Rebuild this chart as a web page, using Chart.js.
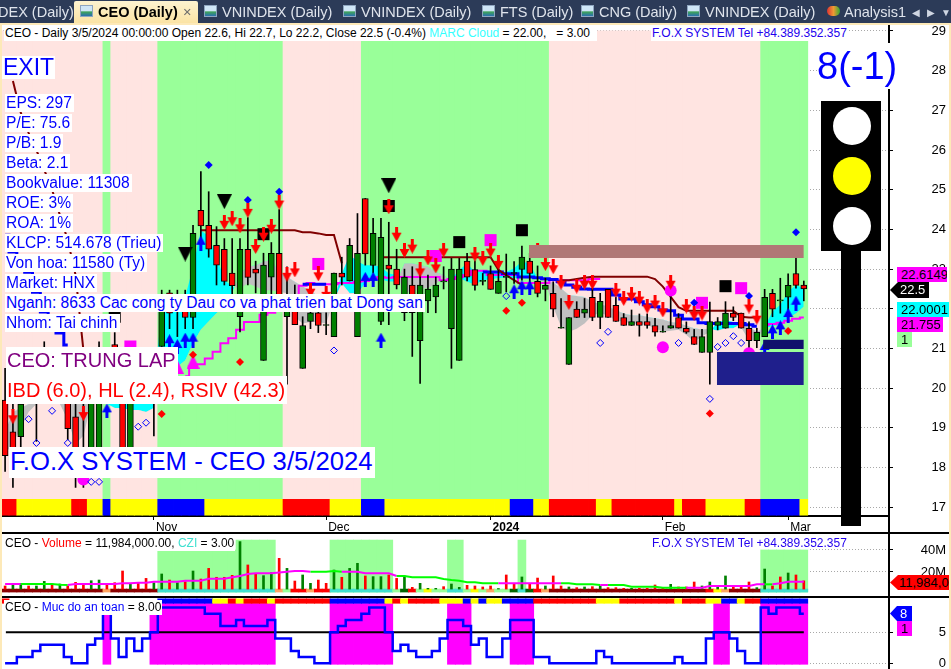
<!DOCTYPE html>
<html>
<head>
<meta charset="utf-8">
<title>CEO Daily</title>
<script src="https://cdn.jsdelivr.net/npm/chart.js@4"></script>
<style>
  html, body { margin: 0; padding: 0; background: #fff; overflow: hidden; }
  #page { position: relative; width: 951px; height: 669px; overflow: hidden; font-family: "Liberation Sans", Arial, sans-serif; color: #000; }
  canvas { position: absolute; left: 0; }
  .box { position: absolute; background: #fff; white-space: pre; line-height: 1; z-index: 5; }
  .info { color: #0000ff; font-size: 15.6px; left: 5px; padding: 1px 2px 1px 1px; }
  .hdr { font-size: 12px; padding: 1px 1px 2px 1px; }
  .tag { position: absolute; font-size: 13px; line-height: 15px; z-index: 6; white-space: pre; overflow: hidden; }
  .solid { position: absolute; z-index: 4; }
  .tabbar { position: absolute; left: 0; top: 0; width: 951px; height: 23px; background: #2c3b58; z-index: 8; overflow: hidden; }
  .tab { position: absolute; top: 3px; font-size: 14.5px; line-height: 19px; color: #dfe4ec; white-space: pre; }
  .ico { position: absolute; top: 5px; width: 13px; height: 12px; background: linear-gradient(#cfe6f7 45%, #3fa35a 60%, #2a6fb0); border: 1px solid #8fa6c0; box-sizing: border-box; }
  .frame { position: absolute; background: #fde9b8; z-index: 7; }
</style>
</head>
<body>
<div id="page">
  <canvas id="mainChart" width="951" height="508" style="top:25px"></canvas>
  <canvas id="volChart" width="951" height="63" style="top:534px"></canvas>
  <canvas id="safeChart" width="951" height="71" style="top:598px"></canvas>

  <div class="solid" style="left:888px;top:25px;width:2px;height:644px;background:#000"></div>
  <div class="solid" style="left:0;top:532px;width:951px;height:2px;background:#000"></div>
  <div class="solid" style="left:0;top:596px;width:951px;height:2px;background:#000"></div>

  <div class="tabbar">
    <div class="tab" style="left:-2px">DEX (Daily)</div>
    <div style="position:absolute;left:74px;top:1px;width:124px;height:22px;background:linear-gradient(#fdf3d0,#fbe3a4);border-radius:2px 2px 0 0"></div>
    <div class="ico" style="left:80px"></div>
    <div class="tab" style="left:98px;color:#000;font-weight:bold">CEO (Daily)</div>
    <div class="tab" style="left:183px;color:#6b6b6b">×</div>
    <div class="ico" style="left:204px"></div><div class="tab" style="left:222px">VNINDEX (Daily)</div>
    <div class="ico" style="left:343px"></div><div class="tab" style="left:361px">VNINDEX (Daily)</div>
    <div class="ico" style="left:482px"></div><div class="tab" style="left:500px">FTS (Daily)</div>
    <div class="ico" style="left:581px"></div><div class="tab" style="left:599px">CNG (Daily)</div>
    <div class="ico" style="left:687px"></div><div class="tab" style="left:705px">VNINDEX (Daily)</div>
    <div style="position:absolute;left:827px;top:6px;width:13px;height:10px;background:linear-gradient(90deg,#d33,#e93 50%,#3a3);border-radius:5px"></div>
    <div class="tab" style="left:844px">Analysis1</div>
    <div class="tab" style="left:912px;font-size:10px;color:#cfd6e2">◀</div>
    <div class="tab" style="left:927px;font-size:10px;color:#cfd6e2">▶</div>
    <div class="tab" style="left:941px;font-size:10px;color:#cfd6e2">▼</div>
  </div>
  <div class="frame" style="left:0;top:23px;width:951px;height:2px"></div>
  <div class="frame" style="left:0;top:23px;width:2px;height:646px"></div>
  <div class="frame" style="left:949px;top:23px;width:2px;height:646px"></div>

  <div class="box hdr" style="left:4px;top:26px;width:591px;height:12px">CEO - Daily 3/5/2024 00:00:00 Open 22.6, Hi 22.7, Lo 22.2, Close 22.5 (-0.4%) <span style="color:#33ffff">MARC Cloud</span> = 22.00,   = 3.00</div>
  <div class="box hdr" style="left:651px;top:26px;color:#2200ee;height:12px">F.O.X SYSTEM Tel +84.389.352.357</div>

  <div class="box" style="left:2px;top:56px;font-size:23px;color:#0000ff;padding:0 1px">EXIT</div>
  <div class="box info" style="top:94px">EPS: 297</div>
  <div class="box info" style="top:114px">P/E: 75.6</div>
  <div class="box info" style="top:134px">P/B: 1.9</div>
  <div class="box info" style="top:154px">Beta: 2.1</div>
  <div class="box info" style="top:174px">Bookvalue: 11308</div>
  <div class="box info" style="top:194px">ROE: 3%</div>
  <div class="box info" style="top:214px">ROA: 1%</div>
  <div class="box info" style="top:234px">KLCP: 514.678 (Trieu)</div>
  <div class="box info" style="top:254px">Von hoa: 11580 (Ty)</div>
  <div class="box info" style="top:274px">Market: HNX</div>
  <div class="box info" style="top:294px">Nganh: 8633 Cac cong ty Dau co va phat trien bat Dong san</div>
  <div class="box info" style="top:314px">Nhom: Tai chinh</div>
  <div class="box" style="left:6px;top:347px;font-size:20px;color:#800080;padding:3px 2px 6px 1px">CEO: TRUNG LAP</div>
  <div class="box" style="left:6px;top:376px;font-size:20px;color:#ff0000;padding:4px 2px 4px 1px">IBD (6.0), HL (2.4), RSIV (42.3)</div>
  <div class="box" style="left:9px;top:447px;font-size:25.7px;color:#0000ff;padding:2px 2px 3px 1px">F.O.X SYSTEM - CEO 3/5/2024</div>

  <div class="box" style="left:817px;top:43px;width:78px;height:46px;font-size:38px;line-height:46px;color:#0000ff;text-align:center">8(-1)</div>

  <div class="solid" style="left:821px;top:101px;width:60px;height:150px;background:#000"></div>
  <div class="solid" style="left:841px;top:251px;width:20px;height:275px;background:#000"></div>
  <div class="solid" style="left:833px;top:107px;width:38px;height:38px;border-radius:50%;background:#fff"></div>
  <div class="solid" style="left:833px;top:157px;width:38px;height:38px;border-radius:50%;background:#ffff00"></div>
  <div class="solid" style="left:833px;top:207px;width:38px;height:38px;border-radius:50%;background:#fff"></div>

  <div class="tag" style="left:897px;top:267px;width:50px;height:15px;background:#ff00ff;padding-left:4px;box-sizing:border-box">22.6149</div>
  <div class="tag" style="left:890px;top:282px;width:39px;height:16px;background:#000;color:#fff;padding-left:10px;box-sizing:border-box;clip-path:polygon(0 50%,8px 0,100% 0,100% 100%,8px 100%)">22.5</div>
  <div class="tag" style="left:897px;top:302px;width:53px;height:15px;background:#00ffff;padding-left:4px;box-sizing:border-box">22.0001</div>
  <div class="tag" style="left:897px;top:317px;width:46px;height:15px;background:#ff00ff;padding-left:4px;box-sizing:border-box">21.755</div>
  <div class="tag" style="left:897px;top:332px;width:15px;height:15px;background:#99ff99;padding-left:4px;box-sizing:border-box">1</div>

  <div class="box hdr" style="left:4px;top:536px;height:12px;z-index:5">CEO - <span style="color:#ff0000">Volume</span> = 11,984,000.00, <span style="color:#40e0d0">CZI</span> = 3.00</div>
  <div class="box hdr" style="left:651px;top:536px;height:12px;color:#2200ee;background:transparent">F.O.X SYSTEM Tel +84.389.352.357</div>
  <div class="tag" style="left:890px;top:575px;width:61px;height:15px;background:#ff0000;padding-left:9px;box-sizing:border-box;clip-path:polygon(0 50%,8px 0,100% 0,100% 100%,8px 100%)">11,984,000</div>

  <div class="box hdr" style="left:4px;top:600px;height:12px">CEO - <span style="color:#0000ff">Muc do an toan</span> = 8.00</div>
  <div class="tag" style="left:890px;top:606px;width:22px;height:15px;background:#0000ff;color:#fff;padding-left:10px;box-sizing:border-box;clip-path:polygon(0 50%,7px 0,100% 0,100% 100%,7px 100%)">8</div>
  <div class="tag" style="left:897px;top:621px;width:15px;height:15px;background:#ff00ff;padding-left:4px;box-sizing:border-box">1</div>
</div>

<script>
// price candles, one value per trading day (103 days)
const openVals = [
  19.7, 18.9, 18.78, 20.1, 20.2, 20.1, 20.5, 20.4, 20.2, 19.28,
  18.5, 18.2, 18.2, 20.5, 21.1, 20.0, 18.4, 20.2, 20.0, 19.9,
  21.05, 22.4, 22.2, 22.3, 21.78, 24.48, 24.1, 23.6, 23.5, 22.9,
  21.8, 23.5, 23.0, 20.7, 22.8, 23.4, 21.8, 22.3, 20.5, 21.68,
  21.9, 21.58, 21.3, 22.9, 22.7, 21.3, 24.78, 23.09, 21.68, 23.1,
  23.0, 21.9, 22.6, 21.2, 22.2, 22.3, 22.68, 21.5, 20.7, 23.2,
  22.99, 22.69, 22.89, 22.39, 22.79, 22.89, 22.99, 23.2, 22.69, 22.49,
  22.39, 21.51, 20.6, 21.99, 21.89, 22.29, 21.78, 22.49, 22.09, 21.78,
  21.58, 21.68, 21.68, 21.58, 21.41, 21.51, 21.78, 21.51, 21.3, 20.9,
  20.9, 21.58, 21.51, 21.89, 21.89, 21.51, 21.2, 21.3, 22.39, 22.2,
  22.29, 22.89, 22.6
];
const highVals = [
  20.5, 20.0, 20.0, 20.3, 20.3, 21.17, 20.8, 20.8, 20.5, 19.6,
  20.1, 20.5, 21.17, 20.8, 21.4, 20.2, 20.3, 20.3, 20.3, 20.2,
  22.47, 22.47, 22.47, 22.47, 24.1, 25.46, 24.95, 24.07, 23.77, 23.77,
  23.77, 24.3, 23.2, 23.4, 23.67, 24.5, 23.06, 22.6, 21.8, 21.95,
  21.95, 21.9, 22.9, 23.3, 23.77, 24.4, 24.78, 24.28, 24.28, 24.18,
  23.5, 23.0, 23.06, 22.9, 22.85, 22.8, 23.06, 23.27, 23.27, 23.4,
  23.21, 22.89, 23.08, 23.23, 23.38, 23.19, 23.58, 23.4, 23.08, 22.77,
  22.68, 22.26, 21.78, 22.18, 22.26, 22.52, 22.39, 22.49, 22.29, 21.88,
  21.97, 21.87, 21.87, 21.76, 21.57, 22.47, 21.88, 21.67, 21.48, 21.48,
  22.17, 21.78, 22.18, 22.05, 21.89, 21.67, 21.51, 22.49, 22.49, 22.77,
  22.88, 23.29, 22.7
];
const lowVals = [
  17.9, 17.5, 18.5, 19.65, 18.66, 19.9, 20.0, 19.9, 18.7, 17.5,
  17.5, 18.1, 18.1, 20.0, 20.0, 18.2, 18.2, 19.65, 19.65, 18.8,
  21.05, 21.5, 21.3, 21.5, 21.5, 23.5, 23.3, 22.6, 22.6, 22.3,
  21.42, 22.6, 22.4, 20.7, 22.3, 22.2, 20.1, 21.6, 20.5, 21.5,
  21.4, 21.35, 21.3, 22.6, 22.7, 21.3, 23.1, 22.9, 21.6, 21.6,
  22.5, 21.7, 20.8, 20.12, 21.9, 21.9, 22.5, 20.5, 20.7, 22.7,
  22.47, 22.6, 22.49, 22.39, 22.43, 22.64, 22.72, 22.64, 22.3, 22.2,
  21.8, 21.51, 20.6, 21.78, 21.78, 21.7, 21.5, 21.78, 21.68, 21.58,
  21.58, 21.31, 21.51, 21.31, 21.41, 21.51, 21.51, 21.38, 21.1, 20.9,
  20.1, 21.47, 21.51, 21.7, 21.51, 21.02, 21.02, 21.3, 21.8, 21.89,
  21.97, 22.52, 22.2
];
const closeVals = [
  18.3, 18.5, 19.6, 19.8, 19.9, 20.7, 20.2, 20.1, 18.98, 18.2,
  18.2, 20.2, 20.0, 20.2, 20.5, 18.4, 20.0, 20.0, 20.2, 20.0,
  22.3, 21.89, 22.0, 21.78, 23.9, 24.09, 23.5, 23.1, 22.69, 22.58,
  23.5, 22.79, 22.9, 23.1, 23.4, 22.2, 22.2, 21.6, 21.58, 21.9,
  21.58, 21.58, 22.9, 22.8, 23.6, 23.4, 23.38, 23.9, 23.8, 23.0,
  22.6, 22.8, 21.9, 22.6, 22.5, 22.6, 22.68, 23.0, 23.0, 22.8,
  22.59, 22.69, 22.49, 22.69, 22.79, 22.89, 23.3, 22.89, 22.39, 22.59,
  21.99, 21.51, 21.78, 21.78, 21.99, 21.78, 22.19, 21.78, 21.68, 21.58,
  21.68, 21.58, 21.58, 21.41, 21.41, 21.58, 21.51, 21.41, 21.1, 21.3,
  21.68, 21.68, 21.89, 21.78, 21.51, 21.2, 21.41, 22.29, 21.99, 22.2,
  22.59, 22.59, 22.5
];

// date axis
const dateTicks = [19, 41, 62, 84, 100];
const dateLabels = ['Nov', 'Dec', '2024', 'Feb', 'Mar'];
const priceTicks = [17, 18, 19, 20, 21, 22, 23, 24, 25, 26, 27, 28, 29];

// state codes per day: P pink / G green zones, R Y B strip at the chart bottom
const zoneCodes = 'PPPPPPPPPP PPPGPPPPPP GGGGGGGGGG GGGGGGPPPP PPPPPPGGGG GGGGGGGGGG GGGGGGGGGG PPPPPPPPPP PPPPPPPPPP PPPPPPPGGG GGG';
const stripCodes = 'RRYYYYYYYR RYYBYYYYYY BBBBBBYYYY YYYYYYRRRR RRYYYYBBBY YYYYYYYYYY YYYYYBBBYY RRRRRRYYRR RRRRRRYRRR YYYYYRRBBB BBY';

// indicator lines (null = not drawn)
const trailLine = [
  null, 27.74, 26.94, 26.43, 26.0, 25.5, 25.0, 24.36, 23.73, 22.85,
  20.96, null, null, null, null, null, null, null, null, null,
  null, null, null, null, null, 23.98, 23.98, 23.98, 23.98, 23.98,
  23.98, 23.98, 23.98, 23.98, 23.98, 23.98, 23.98, 23.98, 23.93, 23.93,
  23.9, 23.86, 23.86, 23.15, null, null, null, null, 23.3, 23.3,
  23.3, 23.3, 23.3, 23.3, 23.3, 23.3, 23.3, 23.3, 23.3, 23.3,
  23.3, 23.3, 23.3, 22.98, 22.85, 22.72, 22.6, null, null, null,
  null, 22.72, 22.72, 22.75, 22.78, 22.81, 22.81, 22.81, 22.81, 22.81,
  22.81, 22.81, 22.81, 22.75, 22.56, 22.3, 22.04, 21.95, 21.95, 21.95,
  21.95, 21.95, 21.95, 21.95, 21.8, 21.78, 21.78, null, null, null,
  null, null, null
];
const blueLine = [
  23.85, 23.43, 23.1, 22.92, 22.42, 21.92, 21.65, 21.39, 21.09, null,
  null, null, null, null, null, null, null, null, null, null,
  null, null, null, null, null, null, null, null, null, null,
  null, null, null, null, null, null, null, null, 22.62, 22.62,
  22.62, 22.62, null, null, null, null, null, null, null, null,
  null, null, null, null, null, null, null, null, null, null,
  null, 22.93, 22.93, 22.93, 22.88, 22.88, 22.8, 22.8, 22.78, 22.76,
  22.74, 22.68, 22.6, 22.54, 22.5, 22.49, 22.49, 22.49, 22.35, 22.25,
  22.25, 22.18, 22.1, 22.05, 21.97, 21.95, 21.84, 21.74, 21.74, 21.65,
  21.63, 21.63, 21.63, 21.63, 21.63, 21.6, 21.56, null, null, null,
  null, null, null
];
const magentaLine = [
  null, null, null, null, null, null, null, null, null, null,
  null, null, null, null, null, null, null, null, null, null,
  null, null, null, 20.3, 20.55, 20.6, 20.75, 20.92, 21.13, 21.26,
  21.47, 21.67, 21.67, 21.85, 21.9, 22.0, 22.1, 22.2, 22.58, 22.65,
  22.62, 22.62, 22.62, 22.65, 22.65, 22.68, 22.7, 22.75, 22.8, 22.78,
  22.8, 22.8, 22.8, 22.8, 22.8, 22.8, 22.72, 22.75, 22.8, 22.85,
  22.96, 22.96, 22.85, 22.85, 22.85, 22.85, 22.65, 22.65, 22.65, 22.65,
  22.72, 22.72, 22.72, 22.72, 22.72, 22.75, 22.75, null, null, null,
  null, null, null, null, null, null, null, null, null, null,
  null, null, null, null, null, null, null, 21.59, 21.62, 21.65,
  21.7, 21.75, 21.78
];

// MARC cloud edges: cyan while cloudFast is above cloudSlow, gray while below
const cloudFast = [
  18.35, 18.6, 19.0, 19.4, 19.6, 19.6, 19.6, 19.6, 19.2, 18.6,
  18.8, 19.6, 19.6, 19.6, 19.7, 19.7, 19.7, 19.7, 19.7, 20.0,
  22.0, 22.05, 22.2, 22.3, 23.06, 23.98, 23.82, 23.31, 22.73, 22.56,
  22.52, 22.64, 22.56, 22.47, 22.47, 22.43, 22.39, 21.8, 21.63, 21.67,
  21.67, 21.63, 22.22, 22.89, 23.36, 23.19, 23.1, 23.1, 23.06, 22.89,
  22.85, 22.43, 22.43, 22.52, 22.52, 22.64, 22.77, 22.76, 22.98, 23.15,
  22.93, 22.96, 22.96, 22.93, 22.93, 23.02, 23.19, 23.14, 22.77, 22.66,
  22.05, 21.55, 21.42, 21.5, 21.63, 21.84, 21.89, 21.84, 21.7, 21.68,
  21.63, 21.62, 21.59, 21.51, 21.42, 21.45, 21.47, 21.34, 21.17, 21.3,
  21.42, 21.67, 21.72, 21.67, 21.53, 21.2, 21.2, 21.55, 21.93, 22.1,
  22.43, 22.6, 22.52
];
const cloudSlow = [
  18.9, 19.4, 19.5, 19.6, 19.6, 19.6, 19.6, 19.6, 19.6, 19.6,
  19.6, 19.6, 19.6, 19.6, 19.5, 19.5, 19.45, 19.45, 19.4, 19.5,
  21.05, 20.96, 20.54, 20.7, 21.13, 21.47, 21.68, 21.89, 22.05, 22.39,
  22.89, 23.06, 23.1, 23.19, 23.23, 22.93, 22.81, 22.68, 22.56, 22.47,
  22.31, 22.05, 22.22, 22.64, 22.39, 22.39, 22.64, 22.77, 22.73, 22.68,
  22.68, 23.15, 23.15, 23.1, 23.06, 22.93, 22.85, 22.68, 22.77, 22.68,
  22.6, 22.72, 22.74, 22.77, 22.79, 22.77, 22.79, 22.77, 22.76, 22.72,
  22.66, 22.52, 22.35, 22.32, 22.3, 22.18, 22.12, 22.05, 21.97, 21.88,
  21.84, 21.84, 21.8, 21.76, 21.73, 21.67, 21.65, 21.57, 21.51, 21.48,
  21.5, 21.45, 21.51, 21.51, 21.62, 21.55, 21.42, 21.51, 21.56, 21.59,
  21.76, 21.88, 22.05
];

// price zones drawn as [from day, to day] with [bottom, top]
const brownZoneDays = [66.9, 102];
const brownZonePrice = [23.28, 23.61];
const navyZoneDays = [90.9, 102];
const navyZonePrice = [20.08, 20.91];
const darkZoneDays = [96.8, 102];
const darkZonePrice = [20.99, 21.22];

// chart markers: day index and price
const sellDays = [1, 10, 28, 29, 30, 31, 32, 33, 34, 35, 36, 37, 39, 40, 41, 49, 50, 51, 52, 53, 54, 55, 56, 60, 61, 62, 63, 68, 69, 70, 71, 72, 73, 74, 75, 78, 79, 80, 81, 82, 83, 84, 85, 87, 88, 89, 95, 96];
const sellPrices = [19.28, 19.36, 24.18, 24.27, 24.09, 24.48, 23.57, 23.88, 24.08, 24.69, 22.87, 22.98, 22.47, 22.88, 22.39, 24.57, 23.88, 23.47, 23.58, 22.98, 23.28, 23.08, 23.48, 23.38, 23.27, 23.48, 23.17, 23.48, 23.14, 23.06, 22.67, 22.16, 22.57, 22.67, 22.67, 22.47, 22.26, 22.37, 22.27, 22.07, 22.17, 21.97, 22.67, 22.07, 21.89, 21.89, 22.07, 21.79];
const buyDays = [13, 21, 22, 23, 24, 25, 46, 47, 48, 65, 66, 67, 97, 98, 99, 100, 101];
const buyPrices = [19.43, 21.17, 21.05, 21.21, 21.21, 23.65, 22.74, 22.74, 21.21, 22.43, 22.53, 22.53, 21.0, 21.42, 21.52, 21.83, 22.14];
const blackTriDays = [23, 28, 49];
const blackTriPrices = [23.38, 24.7, 25.1];
const blackBoxDays = [14, 33, 49, 58, 66, 92];
const blackBoxPrices = [21.8, 23.88, 24.59, 23.68, 23.98, 22.57];
const pinkBoxDays = [16, 40, 55, 62, 89, 94];
const pinkBoxPrices = [21.05, 23.13, 23.33, 23.73, 22.15, 22.52];
const pinkDotDays = [10, 84, 85, 95];
const pinkDotPrices = [17.7, 21.03, 22.46, 20.88];
const pinkTriDays = [22, 24];
const pinkTriPrices = [20.54, 20.67];
const redDiaDays = [20, 24, 30, 64, 66, 90, 100];
const redDiaPrices = [19.35, 20.84, 20.66, 21.95, 22.15, 19.36, 21.44];
const blueDiaDays = [26, 31, 35, 88, 95, 101];
const blueDiaPrices = [25.62, 24.74, 24.95, 22.15, 22.32, 23.93];
const hollowDays = [3, 4, 6, 8, 11, 12, 17, 18, 42, 64, 76, 77, 86, 90, 91, 92, 93, 94];
const hollowPrices = [19.22, 18.62, 19.43, 18.62, 17.64, 17.64, 19.03, 19.13, 20.95, 22.32, 21.14, 21.42, 21.14, 19.73, 21.04, 21.14, 21.31, 21.14];

// volume panel, in millions
const volumeVals = [
  7.3, 8.8, 9.7, 7.3, 7.3, 11.5, 9.1, 9.1, 7.3, 10.6,
  9.1, 12.1, 12.7, 9.1, 10.3, 20.9, 9.7, 9.7, 14.2, 10.3,
  18.2, 12.7, 10.3, 11.2, 20.9, 13.6, 23.3, 15.2, 15.2, 17.0,
  47.6, 26.4, 18.2, 16.7, 19.4, 32.4, 23.3, 11.8, 17.3, 9.7,
  12.7, 9.7, 21.8, 15.2, 23.3, 27.9, 16.4, 15.8, 15.8, 17.3,
  14.2, 16.4, 6.1, 9.7, 5.2, 5.2, 6.7, 9.1, 6.1, 7.9,
  7.3, 6.4, 7.3, 5.0, 17.3, 8.8, 15.5, 9.7, 14.5, 7.3,
  16.4, 7.3, 6.4, 5.8, 6.4, 6.7, 7.3, 5.8, 5.8, 5.2,
  5.2, 5.2, 5.2, 8.2, 5.8, 8.8, 6.4, 6.4, 10.9, 7.3,
  10.9, 7.3, 16.4, 6.7, 6.7, 10.9, 5.8, 22.7, 7.3, 15.5,
  19.1, 17.3, 11.98
];
const volumeDir = 'rggrggrgrr rggrrrgrrg grgrgrrrrr grrggrgrgg rrgrggrggr rgrgggrggr rrrgrrgrrg rrgrgrgrrr grrrrgrrrg gggrrrggrr grr';
const volumeMa = [
  9.1, 9.1, 9.1, 9.1, 9.1, 9.1, 9.1, 8.5, 8.2, 9.1,
  9.1, 9.1, 9.1, 9.1, 9.1, 9.7, 9.7, 10.3, 10.3, 11.2,
  11.2, 11.2, 11.2, 12.1, 12.1, 12.1, 13.9, 13.9, 13.9, 15.2,
  16.4, 18.2, 18.8, 18.8, 18.8, 19.6, 20.3, 20.9, 20.9, 20.3,
  20.3, 20.3, 20.9, 20.3, 20.3, 20.3, 18.8, 18.8, 18.8, 18.8,
  16.4, 16.4, 15.2, 15.2, 15.2, 15.2, 13.6, 12.7, 12.1, 10.6,
  10.6, 9.7, 9.7, 9.7, 9.7, 9.7, 9.7, 9.7, 9.7, 9.7,
  9.7, 9.7, 9.7, 8.8, 8.8, 8.8, 8.2, 8.2, 8.2, 8.2,
  6.7, 6.7, 6.7, 6.7, 5.8, 5.8, 5.8, 5.8, 5.8, 5.8,
  7.3, 7.3, 7.3, 7.3, 7.3, 7.3, 8.8, 8.8, 8.8, 9.7,
  11.2, 11.2, 11.2
];
const volumeMaCodes = 'mmggggggmm mmmmmmmmmm mmmmmmmmmm mmmmmmmmmg gggmmmmmmm gggggggggg gggmmmmmmm mgggggmggg gggggggmmm mmmmmmmgmm mmm';
const volumeStateCodes = 'DDDDDDDDDD DDDODDDDDD CCCCCCCCCC CCCCCOLRRO RRCCCCCCCC GKRGYGLCCL YGOGLKCKRO DDDDDDDDDD DDDDDDDDDD RYODDDDCCC CCC';
const volumeZoneTop = [
  null, null, null, null, null, null, null, null, null, null,
  null, null, null, null, null, null, null, null, null, null,
  40, 40, 40, 40, 40, 40, 40, 40, 40, 40,
  49, 49, 49, 49, 49, null, null, null, null, null,
  null, null, 49, 49, 49, 49, 49, 49, 49, 49,
  null, null, null, null, null, null, null, 49, 49, null,
  null, null, null, null, null, null, 49, null, null, null,
  null, null, null, null, null, null, null, null, null, null,
  null, null, null, null, null, null, null, null, null, null,
  null, null, null, null, null, null, null, 40, 40, 40,
  40, 40, 40
];
const volumeTicks = [20, 40];

// safety panel
const safetyVals = [
  0, 0, 1, 1, 2, 3, 3, 3, 1, 0,
  0, 3, 4, 8, 4, 1, 4, 2, 4, 5,
  9, 9, 9, 9, 9, 9, 8, 8, 6, 6,
  7, 6, 6, 6, 7, 4, 4, 2, 1, 1,
  0, 0, 5, 6, 7, 7, 8, 9, 9, 5,
  2, 3, 2, 1, 1, 2, 4, 7, 7, 6,
  3, 4, 1, 1, 4, 7, 7, 7, 1, 1,
  0, 0, 0, 0, 0, 0, 2, 1, 0, 0,
  0, 0, 0, 0, 0, 0, 1, 0, 0, 0,
  4, 5, 5, 4, 2, 0, 0, 9, 8, 9,
  9, 9, 8
];
const safetyMid = [5, 5];
const safetyMidDays = [0.1, 102];
const safetyZoneTop = [
  null, null, null, null, null, null, null, null, null, null,
  null, null, null, 8, null, null, null, null, null, 8,
  9.65, 9.65, 9.65, 9.65, 9.65, 9.65, 9.65, 9.65, 9.65, 9.65,
  9.65, 9.65, 9.65, 9.65, 9.65, null, null, null, null, null,
  null, null, 9.65, 9.65, 9.65, 9.65, 9.65, 9.65, 9.65, 9.65,
  null, null, null, null, null, null, null, 9.65, 9.65, 9.65,
  null, null, null, null, null, 9.65, 9.65, 9.65, null, null,
  null, null, null, null, null, null, null, null, null, null,
  null, null, null, null, null, null, null, null, null, null,
  null, 9.65, 9.65, null, null, null, null, 9.65, 9.65, 9.65,
  9.65, 9.65, 9.65
];
const safetyStripCodes = 'R--------- ---------- BBBBBBBYYR YRRRYRRRRR RRBBBBBBBY RYRRRRYYYB YBYYBBBBRR RRRRRRYYYR RRRRRRYRRR YYBBYRRBBB BBB';
const safetyTicks = [0, 5];

const colors = {
  P: '#ffe4e1', G: '#99ff99', R: '#ff0000', Y: '#ffff00', B: '#0000ff',
  D: '#8b0000', O: '#ffa560', C: '#40e0d0', L: '#99ff99', K: '#006400', M: '#ff00ff'
};
const days = openVals.map((v, i) => i);
const codes = s => s.replace(/ /g, '').split('');

// x axis maps day i to pixel 5.1 + 7.83 * i in every panel
const xMin = -0.651;
const xMax = 112.88;
const barStep = 8;

function pts(arr) {
  return arr.map((v, i) => ({ x: i, y: v }));
}
function pairs(xs, ys) {
  return xs.map((x, i) => ({ x: x, y: ys[i] }));
}
function spans(lo, hi) {
  const out = [];
  days.forEach(i => {
    const a = Array.isArray(lo) ? lo[i] : lo;
    const b = Array.isArray(hi) ? hi[i] : hi;
    if (a !== null && b !== null) out.push({ x: i, y: [a, b] });
  });
  return out;
}
function barSet(data, color, width, order, extra) {
  return Object.assign({
    type: 'bar', data: data, backgroundColor: color, barThickness: width,
    grouped: false, order: order, borderWidth: 0, borderSkipped: false
  }, extra || {});
}
function lineSet(data, color, width, order, extra) {
  return Object.assign({
    type: 'line', data: data, borderColor: color, borderWidth: width,
    pointRadius: 0, tension: 0, order: order, fill: false
  }, extra || {});
}
function markerSet(data, style, radius, fill, order, extra) {
  return Object.assign({
    type: 'line', data: data, showLine: false, pointStyle: style, pointRadius: radius,
    pointBackgroundColor: fill, pointBorderColor: fill, pointBorderWidth: 0, order: order
  }, extra || {});
}
function zoneSets(dayRange, priceRange, color, order) {
  const top = dayRange.map(d => ({ x: d, y: priceRange[1] }));
  const bot = dayRange.map(d => ({ x: d, y: priceRange[0] }));
  return [
    lineSet(top, color, 0, order, { fill: { target: '+1', above: color, below: color } }),
    lineSet(bot, color, 0, order + 1)
  ];
}

// arrow and triangle stamps for pointStyle
function stamp(w, h, draw) {
  const c = document.createElement('canvas');
  c.width = w;
  c.height = h;
  draw(c.getContext('2d'));
  return c;
}
function arrowStamp(color, up) {
  return stamp(11, 15, ctx => {
    if (up) { ctx.translate(0, 15); ctx.scale(1, -1); }
    ctx.fillStyle = color;
    ctx.fillRect(4, 0, 3, 9);
    ctx.beginPath();
    ctx.moveTo(0.5, 6);
    ctx.lineTo(10.5, 6);
    ctx.lineTo(5.5, 15);
    ctx.closePath();
    ctx.fill();
  });
}
function triStamp(color, w, h, up) {
  return stamp(w, h, ctx => {
    if (up) { ctx.translate(0, h); ctx.scale(1, -1); }
    ctx.fillStyle = color;
    ctx.beginPath();
    ctx.moveTo(0, 0);
    ctx.lineTo(w, 0);
    ctx.lineTo(w / 2, h);
    ctx.closePath();
    ctx.fill();
  });
}

function xAxis(show) {
  const axis = {
    type: 'linear', min: xMin, max: xMax, offset: false, display: show,
    grid: { display: false }
  };
  if (show) {
    axis.border = { display: true, color: '#000', width: 2 };
    axis.grid = { display: true, offset: false, drawOnChartArea: false, drawTicks: true, tickLength: 4, tickColor: '#000', color: '#000' };
    axis.ticks = {
      color: '#000', padding: 0, maxRotation: 0, autoSkip: false, align: 'start', labelOffset: 2,
      font: ctx => ({ family: 'Liberation Sans', size: 12, weight: ctx.tick && ctx.tick.label === '2024' ? 'bold' : 'normal' }),
      callback: v => dateLabels[dateTicks.indexOf(v)]
    };
    axis.afterBuildTicks = s => { s.ticks = dateTicks.map(v => ({ value: v })); };
    axis.afterFit = s => { s.height = 17; s.paddingLeft = 0; s.paddingRight = 0; };
  }
  return axis;
}
function yAxis(min, max, tickVals, fmt) {
  return {
    type: 'linear', position: 'right', min: min, max: max,
    border: { display: false, dash: [1, 2] },
    grid: { color: '#a8a8a8', tickColor: '#000', tickLength: 4, tickBorderDash: [], lineWidth: 1 },
    ticks: {
      color: '#000', padding: 2, crossAlign: 'far', autoSkip: false,
      font: { family: 'Liberation Sans', size: 13 }, callback: fmt
    },
    afterBuildTicks: s => { s.ticks = tickVals.map(v => ({ value: v })); },
    afterFit: s => { s.width = 57; s.paddingTop = 0; s.paddingBottom = 0; }
  };
}
function makeChart(id, datasets, scales) {
  return new Chart(document.getElementById(id), {
    type: 'bar',
    data: { datasets: datasets },
    options: {
      responsive: false, animation: false, devicePixelRatio: 1, events: [],
      layout: { autoPadding: false, padding: { left: 0, right: 5, top: 0, bottom: 0 } },
      plugins: { legend: { display: false }, tooltip: { enabled: false } },
      scales: scales
    }
  });
}

// price panel
const bodyTop = openVals.map((o, i) => Math.max(o, closeVals[i]));
const bodyBot = openVals.map((o, i) => Math.min(o, closeVals[i]));
const bodyFill = openVals.map((o, i) => o > closeVals[i] ? '#ff0000' : '#008000');

makeChart('mainChart', [
  barSet(spans(17.2, 29), codes(zoneCodes).map(c => colors[c]), barStep, 100),
  barSet(spans(16.8, 17.2), codes(stripCodes).map(c => colors[c]), barStep, 99),
  lineSet(pts(cloudFast), '#00ffff', 0, 90, { fill: { target: '+1', above: '#00ffff', below: '#c0c0c0' } }),
  lineSet(pts(cloudSlow), '#c0c0c0', 0, 91),
  lineSet(pts(magentaLine), '#ff00ff', 2, 87, { stepped: 'middle' }),
  lineSet(pts(blueLine), '#0000ff', 3, 86, { stepped: 'middle' }),
  lineSet(pts(trailLine), '#800000', 2, 85),
  barSet(spans(lowVals, highVals), '#000', 1, 80),
  barSet(spans(bodyBot, bodyTop), bodyFill, 6, 79, { borderWidth: 1, borderColor: '#000', minBarLength: 1 }),
  markerSet(pairs(blackBoxDays, blackBoxPrices), 'rect', 8.5, '#000', 74),
  markerSet(pairs(pinkBoxDays, pinkBoxPrices), 'rect', 8.5, '#ff00ff', 73),
  markerSet(pairs(pinkDotDays, pinkDotPrices), 'circle', 6, '#ff00ff', 73),
  markerSet(pairs(blackTriDays, blackTriPrices), triStamp('#000', 15, 15, false), 8, '#000', 72),
  markerSet(pairs(pinkTriDays, pinkTriPrices), triStamp('#ff00ff', 13, 14, true), 8, '#ff00ff', 72),
  markerSet(pairs(hollowDays, hollowPrices), 'rectRot', 3.5, 'rgba(0,0,0,0)', 71, { pointBorderColor: '#0000ff', pointBorderWidth: 1 }),
  markerSet(pairs(redDiaDays, redDiaPrices), 'rectRot', 4, '#ff0000', 71),
  markerSet(pairs(blueDiaDays, blueDiaPrices), 'rectRot', 4, '#0000ff', 71),
  markerSet(pairs(sellDays, sellPrices), arrowStamp('#ff0000', false), 8, '#ff0000', 70),
  markerSet(pairs(buyDays, buyPrices), arrowStamp('#0000ff', true), 8, '#0000ff', 70),
  ...zoneSets(navyZoneDays, navyZonePrice, '#1f1f8c', 60),
  ...zoneSets(darkZoneDays, darkZonePrice, '#10106c', 58),
  ...zoneSets(brownZoneDays, brownZonePrice, '#b07876', 56)
], {
  x: xAxis(true),
  y: yAxis(16.78, 29.15, priceTicks, v => String(v))
});

// volume panel
makeChart('volChart', [
  barSet(spans(-2.7, 54.5), '#fff', barStep, 100),
  barSet(spans(1.8, volumeZoneTop), '#99ff99', barStep, 99),
  barSet(spans(1.8, 4.5), codes(volumeStateCodes).map(c => colors[c]), barStep, 90),
  barSet(spans(4.5, volumeVals), codes(volumeDir).map(c => c === 'r' ? '#ff0000' : '#008000'), 2, 80),
  lineSet(pts(volumeMa), '#00ff00', 2, 70, {
    segment: { borderColor: ctx => codes(volumeMaCodes)[ctx.p0DataIndex] === 'm' ? '#ff00ff' : '#00ff00' }
  })
], {
  x: xAxis(false),
  y: yAxis(-2.7, 54.5, volumeTicks, v => v + 'M')
});

// safety panel
makeChart('safeChart', [
  barSet(spans(-0.92, 10.53), '#fff', barStep, 100),
  barSet(spans(-0.16, safetyZoneTop), '#ff00ff', barStep, 99),
  barSet(spans(9.68, 10.4).filter(p => codes(safetyStripCodes)[p.x] !== '-'),
    codes(safetyStripCodes).filter(c => c !== '-').map(c => colors[c]), barStep, 90),
  lineSet(pairs(safetyMidDays, safetyMid), '#000', 2, 80),
  lineSet(pts(safetyVals), '#0000ff', 2.5, 70, { stepped: 'middle' })
], {
  x: xAxis(false),
  y: yAxis(-0.92, 10.53, safetyTicks, v => String(v))
});
</script>
</body>
</html>
